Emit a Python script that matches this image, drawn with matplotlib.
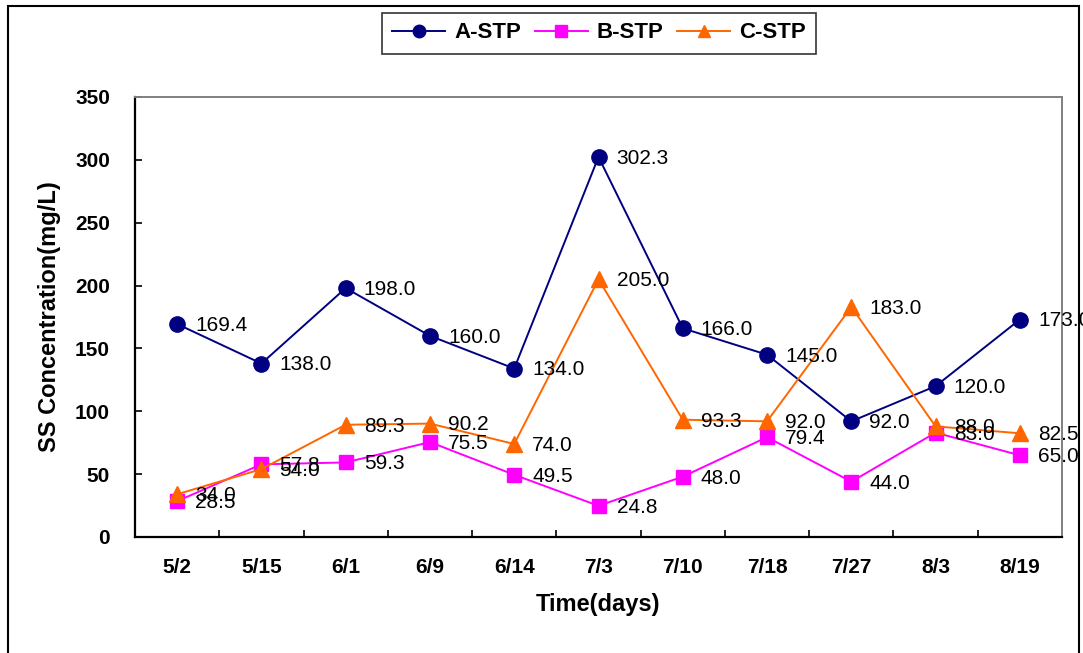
import matplotlib
matplotlib.use("Agg")
import matplotlib.pyplot as plt
from matplotlib.patches import Rectangle
import numpy as np

dates = ["5/2", "5/15", "6/1", "6/9", "6/14", "7/3", "7/10", "7/18", "7/27", "8/3", "8/19"]
a_stp = [169.4, 138.0, 198.0, 160.0, 134.0, 302.3, 166.0, 145.0, 92.0, 120.0, 173.0]
b_stp = [28.5, 57.8, 59.3, 75.5, 49.5, 24.8, 48.0, 79.4, 44.0, 83.0, 65.0]
c_stp = [34.0, 54.0, 89.3, 90.2, 74.0, 205.0, 93.3, 92.0, 183.0, 88.0, 82.5]
y_ticks = [0, 50, 100, 150, 200, 250, 300, 350]

plt.rcParams['font.family'] = ['Liberation Sans', 'DejaVu Sans']

W, H = 1083, 653
fig = plt.figure(figsize=(W / 100, H / 100), dpi=100)
ax = fig.add_axes([135 / W, 1 - 537 / H, (1062 - 135) / W, (537 - 97) / H])

# outer frame of the figure
fig.patches.append(Rectangle((8 / W, -0.05), (1079 - 8) / W, (1.05 - 6 / H),
                             transform=fig.transFigure, fill=False,
                             edgecolor='black', linewidth=1.5))

x = np.arange(len(dates))
series = [
    ("A-STP", a_stp, '#000080', 'o', 11),
    ("B-STP", b_stp, '#FF00FF', 's', 10),
    ("C-STP", c_stp, '#FF6600', '^', 12),
]
for name, vals, col, mk, ms in series:
    ax.plot(x, vals, color=col, marker=mk, markersize=ms, linewidth=1.4,
            label=name, clip_on=False)
    for xi, v in zip(x, vals):
        ax.annotate(f"{v:.1f}", (xi, v), xytext=(13, -1), textcoords='offset points',
                    ha='left', va='center', fontsize=15, color='black')

ax.set_xlim(-0.5, len(dates) - 0.5)
ax.set_ylim(0, 350)
ax.set_yticks(y_ticks)
ax.set_xticks(x)
ax.set_xticklabels(dates)
ax.set_xticks(np.arange(0.5, len(dates) - 0.5), minor=True)
ax.tick_params(axis='x', which='major', length=0, pad=15, labelsize=15)
ax.tick_params(axis='x', which='minor', direction='in', length=5, width=1.2)
ax.tick_params(axis='y', direction='in', length=5, width=1.2, pad=18, labelsize=15)
for lab in ax.get_xticklabels() + ax.get_yticklabels():
    lab.set_fontweight('bold')

for s in ['left', 'bottom']:
    ax.spines[s].set_color('black')
    ax.spines[s].set_linewidth(1.6)
for s in ['top', 'right']:
    ax.spines[s].set_color('#808080')
    ax.spines[s].set_linewidth(1.4)

ax.set_ylabel("SS Concentration(mg/L)", fontsize=17, fontweight='bold', labelpad=10)
ax.set_xlabel("Time(days)", fontsize=17, fontweight='bold', labelpad=12)

leg = fig.legend(loc='center', bbox_to_anchor=(599 / W, 1 - 33 / H), ncol=3,
                 prop={'weight': 'bold', 'size': 16}, frameon=True, fancybox=False,
                 handlelength=2.4, columnspacing=0.6, handletextpad=0.4,
                 borderpad=0.45)
leg.get_frame().set_edgecolor('black')
leg.get_frame().set_linewidth(1.2)
for h in leg.legend_handles:
    h.set_markersize(9)

fig.savefig("out.png", dpi=100)
